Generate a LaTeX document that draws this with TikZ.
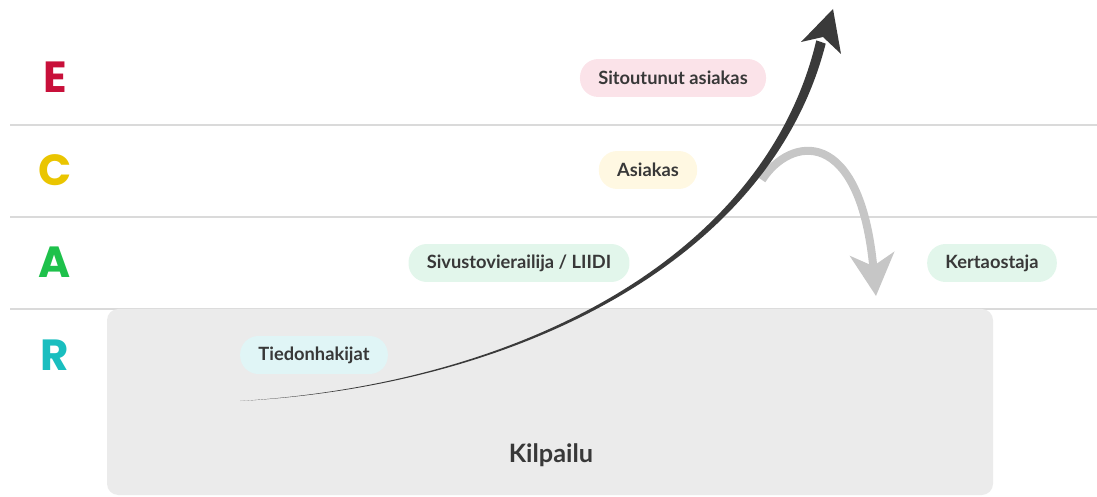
\documentclass[tikz,border=0pt]{standalone}
\usepackage{fontspec}
\setmainfont{Lato}
\newfontfamily\lvlfont{Poppins}
\usetikzlibrary{positioning,arrows.meta,calc}
\definecolor{crred}{HTML}{C8103A}
\definecolor{cryellow}{HTML}{EAC500}
\definecolor{crgreen}{HTML}{1EC14B}
\definecolor{crteal}{HTML}{19BEBF}
\definecolor{crline}{HTML}{DADADA}
\definecolor{crbox}{HTML}{EBEBEB}
\definecolor{crtext}{HTML}{383838}
\definecolor{crdark}{HTML}{3A3A3A}
\definecolor{crgrey}{HTML}{C6C6C6}
\definecolor{crbgred}{HTML}{FBE3E9}
\definecolor{crbgyellow}{HTML}{FFF8E2}
\definecolor{crbggreen}{HTML}{E2F6EB}
\definecolor{crbgteal}{HTML}{E0F5F6}

\begin{document}
\begin{tikzpicture}[x=0.025cm, y=-0.025cm,
  pill/.style={rounded corners=13pt, inner xsep=13pt, minimum height=27pt, text=crtext, font=\fontsize{13}{15}\selectfont\bfseries},
  lvl/.style={font=\lvlfont\fontsize{31}{31}\selectfont\bfseries},
  sep/.style={draw=crline, line width=1pt},
  back/.style={draw=crgrey, line width=5.7pt, -{Stealth[length=1.05cm, width=1.1cm, inset=0.3cm]}}
]
\useasboundingbox (0,0) rectangle (1097,497);
% ---------- level rules ----------
\foreach \y in {125,217,309}
  \draw[sep] (10,\y) -- (1097,\y);
% ---------- competition area ----------
\fill[crbox, rounded corners=8pt] (107,309) rectangle (993,495);
\node[font=\fontsize{18}{20}\selectfont\bfseries, text=crtext] (kil) at (551,455) {Kilpailu};
% ---------- level letters ----------
\foreach \n/\l/\c/\y in {e/E/crred/77, c/C/cryellow/170, a/A/crgreen/262, r/R/crteal/355}
  \node[lvl, text=\c] (l\n) at (55,\y) {\l};
% ---------- stages ----------
\node[pill, fill=crbgred] (sit) at (673,78) {Sitoutunut asiakas};
\node[pill, fill=crbgyellow] (asi) at (648,170) {Asiakas};
\node[pill, fill=crbggreen] (siv) at (519,263) {Sivustovierailija / LIIDI};
\node[pill, fill=crbggreen] (ker) at (992,263) {Kertaostaja};
\node[pill, fill=crbgteal] (tie) at (314,355) {Tiedonhakijat};
% ---------- drop back ----------
\coordinate (split) at (762,180);
\coordinate (land) at (876,296);
\draw[back] (split) .. controls (790,136) and (860,125) .. (land);
% ---------- growth arrow ----------
\coordinate (from) at (240,401);
\coordinate (neck) at (821,42);
\coordinate (tip) at (833,9);
\fill[crdark] (from) .. controls (520,384) and (765,257) .. ($(neck)+(-4.7,-1.6)$)
  -- ($(neck)+(4.7,1.6)$) .. controls (771,259) and (520,386) .. (from) -- cycle;
\fill[crdark] (tip) -- ($(tip)+(-32,33)$) -- ($(tip)+(-10,28)$) -- ($(tip)+(8,45)$) -- cycle;
\end{tikzpicture}
\end{document}
